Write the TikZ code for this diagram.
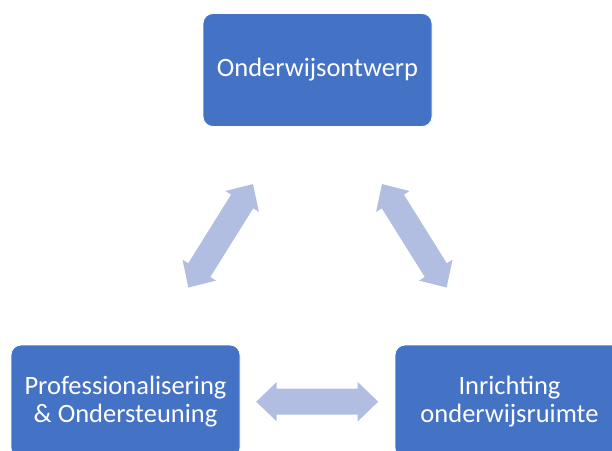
\documentclass[tikz,border=0pt]{standalone}
\usepackage{fontspec}
\setmainfont{Carlito}
\definecolor{boxblue}{HTML}{4472C4}
\definecolor{arrowfill}{HTML}{B1BDE1}
\begin{document}
\begin{tikzpicture}[x=1pt,y=-1pt,
  box/.style={rectangle, rounded corners=10pt, fill=boxblue, draw=white, line width=0.8pt,
    minimum width=229pt, minimum height=113pt, inner sep=0pt, align=center,
    text=white, font=\fontsize{26.5}{28.5}\selectfont},
  dblarr/.pic={\fill[arrowfill] (-61,0) -- (-40.5,-19.7) -- (-40.5,-13) -- (40.5,-13) -- (40.5,-19.7)
     -- (61,0) -- (40.5,19.7) -- (40.5,13) -- (-40.5,13) -- (-40.5,19.7) -- cycle;}
  ]
\useasboundingbox (0,0) rectangle (612,450);
\node[box] (top) at (317.5,70) {Onderwijsontwerp};
\node[box] (prof) at (125.5,401.5) {Professionalisering\\\& Ondersteuning};
\node[box] (inr) at (509.5,401.5) {Inrichting\\onderwijsruimte};
\pic[rotate=58] (la) at (220.7,235.8) {dblarr};
\pic[rotate=-58] (ra) at (414.3,235.8) {dblarr};
\pic (ba) at (317.2,401.7) {dblarr};
\end{tikzpicture}
\end{document}
